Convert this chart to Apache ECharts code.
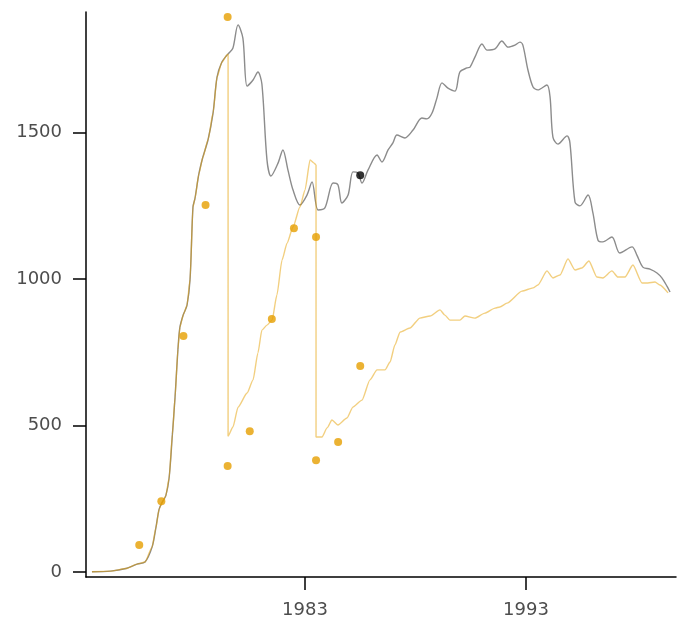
<!DOCTYPE html>
<html>
<head>
<meta charset="utf-8">
<script src="https://cdn.jsdelivr.net/npm/echarts@6/dist/echarts.min.js"></script>
<style>
  html, body { margin: 0; padding: 0; background: #fff; }
  #chart { width: 686px; height: 625px; }
</style>
</head>
<body>
<div id="chart"></div>
<script>
// Observed monthly-ish series (grey)
const grayYears = [
  1973.36, 1974.2, 1974.9, 1975.4, 1975.76, 1976.08, 1976.25, 1976.4, 1976.55, 1976.7, 1976.85,
  1977.0, 1977.12, 1977.25, 1977.34, 1977.5, 1977.66, 1977.8, 1977.93, 1978.02, 1978.2, 1978.38,
  1978.61, 1978.84, 1979.02, 1979.24, 1979.47, 1979.56, 1979.74, 1979.97, 1980.19, 1980.38,
  1980.65, 1980.87, 1981.05, 1981.28, 1981.46, 1981.78, 1982.0, 1982.23, 1982.46, 1982.77,
  1983.09, 1983.32, 1983.59, 1983.9, 1984.27, 1984.49, 1984.67, 1984.95, 1985.17, 1985.4,
  1985.58, 1985.85, 1986.26, 1986.48, 1986.76, 1986.98, 1987.16, 1987.52, 1987.89, 1988.29,
  1988.52, 1988.75, 1988.97, 1989.2, 1989.47, 1989.79, 1990.01, 1990.33, 1990.47, 1990.69,
  1991.01, 1991.24, 1991.6, 1991.91, 1992.19, 1992.5, 1992.73, 1992.86, 1993.09, 1993.32,
  1993.54, 1993.95, 1994.09, 1994.22, 1994.45, 1994.86, 1994.99, 1995.22, 1995.44, 1995.81,
  1996.03, 1996.26, 1996.48, 1996.89, 1997.25, 1997.8, 1998.02, 1998.29, 1998.61, 1998.93,
  1999.15, 1999.38, 1999.52
];
const grayValues = [
  1, 3, 12, 27, 34, 85, 150, 215, 240, 260, 320,
  470, 597, 760, 836, 880, 910, 1000, 1246, 1275, 1360, 1417,
  1475, 1567, 1690, 1741, 1765, 1772, 1789, 1868, 1823, 1659,
  1680, 1707, 1666, 1407, 1352, 1396, 1441, 1372, 1304, 1253,
  1287, 1332, 1236, 1243, 1328, 1322, 1260, 1287, 1366, 1362,
  1328, 1372, 1424, 1400, 1441, 1465, 1492, 1482, 1509, 1550,
  1547, 1567, 1618, 1670, 1652, 1642, 1707, 1721, 1724, 1758,
  1803, 1782, 1786, 1813, 1792, 1799, 1809, 1799, 1714, 1656,
  1646, 1663, 1622, 1485, 1461, 1489, 1465, 1263, 1250, 1287,
  1226, 1133, 1127, 1144, 1089, 1110, 1082, 1041, 1034, 1021,
  1004, 976, 956
];

// Fitted path (orange), restarting twice
const orangeYears = [
  1973.36, 1974.2, 1974.9, 1975.4, 1975.76, 1976.08, 1976.25, 1976.4, 1976.55, 1976.7, 1976.85,
  1977.0, 1977.12, 1977.25, 1977.34, 1977.5, 1977.66, 1977.8, 1977.93, 1978.02, 1978.2, 1978.38,
  1978.61, 1978.84, 1979.02, 1979.24, 1979.47, 1979.52,
  1979.52, 1979.74, 1979.97, 1980.38, 1980.65, 1980.87, 1981.05, 1981.28, 1981.51, 1981.73,
  1981.96, 1982.19, 1982.46, 1982.77, 1983.0, 1983.23, 1983.41, 1983.5,
  1983.5, 1983.77, 1984.0, 1984.22, 1984.49, 1984.9, 1985.17, 1985.58, 1985.94, 1986.26,
  1986.62, 1986.85, 1987.07, 1987.3, 1987.75, 1988.2, 1988.66, 1989.11, 1989.33, 1989.56,
  1990.01, 1990.24, 1990.69, 1991.14, 1991.6, 1991.82, 1992.14, 1992.82, 1993.32, 1993.54,
  1993.95, 1994.22, 1994.54, 1994.9, 1995.22, 1995.53, 1995.85, 1996.21, 1996.48, 1996.89,
  1997.16, 1997.48, 1997.84, 1998.25, 1998.52, 1998.84, 1999.06, 1999.43
];
const orangeValues = [
  1, 3, 12, 27, 34, 85, 150, 215, 240, 260, 320,
  470, 597, 760, 836, 880, 910, 1000, 1246, 1275, 1360, 1417,
  1475, 1567, 1690, 1741, 1765, 1768,
  464, 495, 563, 611, 656, 748, 826, 843, 860, 946,
  1065, 1123, 1178, 1246, 1304, 1407, 1396, 1390,
  461, 461, 492, 519, 502, 526, 563, 587, 656, 690,
  690, 717, 775, 819, 833, 867, 874, 895, 877, 860,
  860, 874, 867, 884, 901, 905, 918, 959, 970, 980,
  1028, 1004, 1014, 1069, 1031, 1038, 1062, 1007, 1004, 1028,
  1007, 1007, 1048, 987, 987, 990, 980, 953
];

// Annual observations (orange dots)
const pointYears = [1975.5, 1976.5, 1977.5, 1978.5, 1979.5, 1979.5, 1980.5, 1981.5, 1982.5, 1983.5, 1983.5, 1984.5, 1985.5];
const pointValues = [92, 242, 806, 1253, 1895, 362, 481, 864, 1174, 1144, 382, 444, 703];

// Highlighted value (black dot)
const markYears = [1985.5];
const markValues = [1355];

const xTickValues = [1983, 1993];
const yTickValues = [0, 500, 1000, 1500];

const zip = (xs, ys) => xs.map((x, i) => [x, ys[i]]);

const labelFont = {
  fontFamily: 'DejaVu Sans',
  fontSize: 18,
  color: '#4d4d4d'
};
const axisLine = { show: true, onZero: false, lineStyle: { color: '#000', width: 1.5 } };
const axisTick = (vals) => ({ show: true, length: 13, lineStyle: { color: '#000', width: 1.5 }, customValues: vals });

const chart = echarts.init(document.getElementById('chart'), null, { renderer: 'canvas' });
chart.setOption({
  animation: false,
  backgroundColor: '#fff',
  grid: { left: 86, right: 10, top: 12, bottom: 48, containLabel: false },
  xAxis: {
    type: 'value',
    min: 1973.09,
    max: 1999.79,
    axisLine: axisLine,
    axisTick: axisTick(xTickValues),
    axisLabel: Object.assign({ margin: 24, customValues: xTickValues, formatter: v => String(v) }, labelFont),
    splitLine: { show: false }
  },
  yAxis: {
    type: 'value',
    min: -17,
    max: 1912,
    axisLine: axisLine,
    axisTick: axisTick(yTickValues),
    axisLabel: Object.assign({ margin: 24, customValues: yTickValues, formatter: v => String(v) }, labelFont),
    splitLine: { show: false }
  },
  series: [
    {
      type: 'line',
      data: zip(grayYears, grayValues),
      showSymbol: false,
      smooth: 0.3,
      lineStyle: { color: '#8c8c8c', width: 1.4 },
      z: 2
    },
    {
      type: 'line',
      data: zip(orangeYears, orangeValues),
      showSymbol: false,
      smooth: 0.2,
      smoothMonotone: 'x',
      lineStyle: { color: 'rgba(230,159,0,0.5)', width: 1.4 },
      z: 3
    },
    {
      type: 'scatter',
      data: zip(pointYears, pointValues),
      symbolSize: 8,
      itemStyle: { color: '#E69F00' },
      z: 4
    },
    {
      type: 'scatter',
      data: zip(markYears, markValues),
      symbolSize: 8,
      itemStyle: { color: '#000' },
      z: 5
    }
  ]
});
</script>
</body>
</html>
